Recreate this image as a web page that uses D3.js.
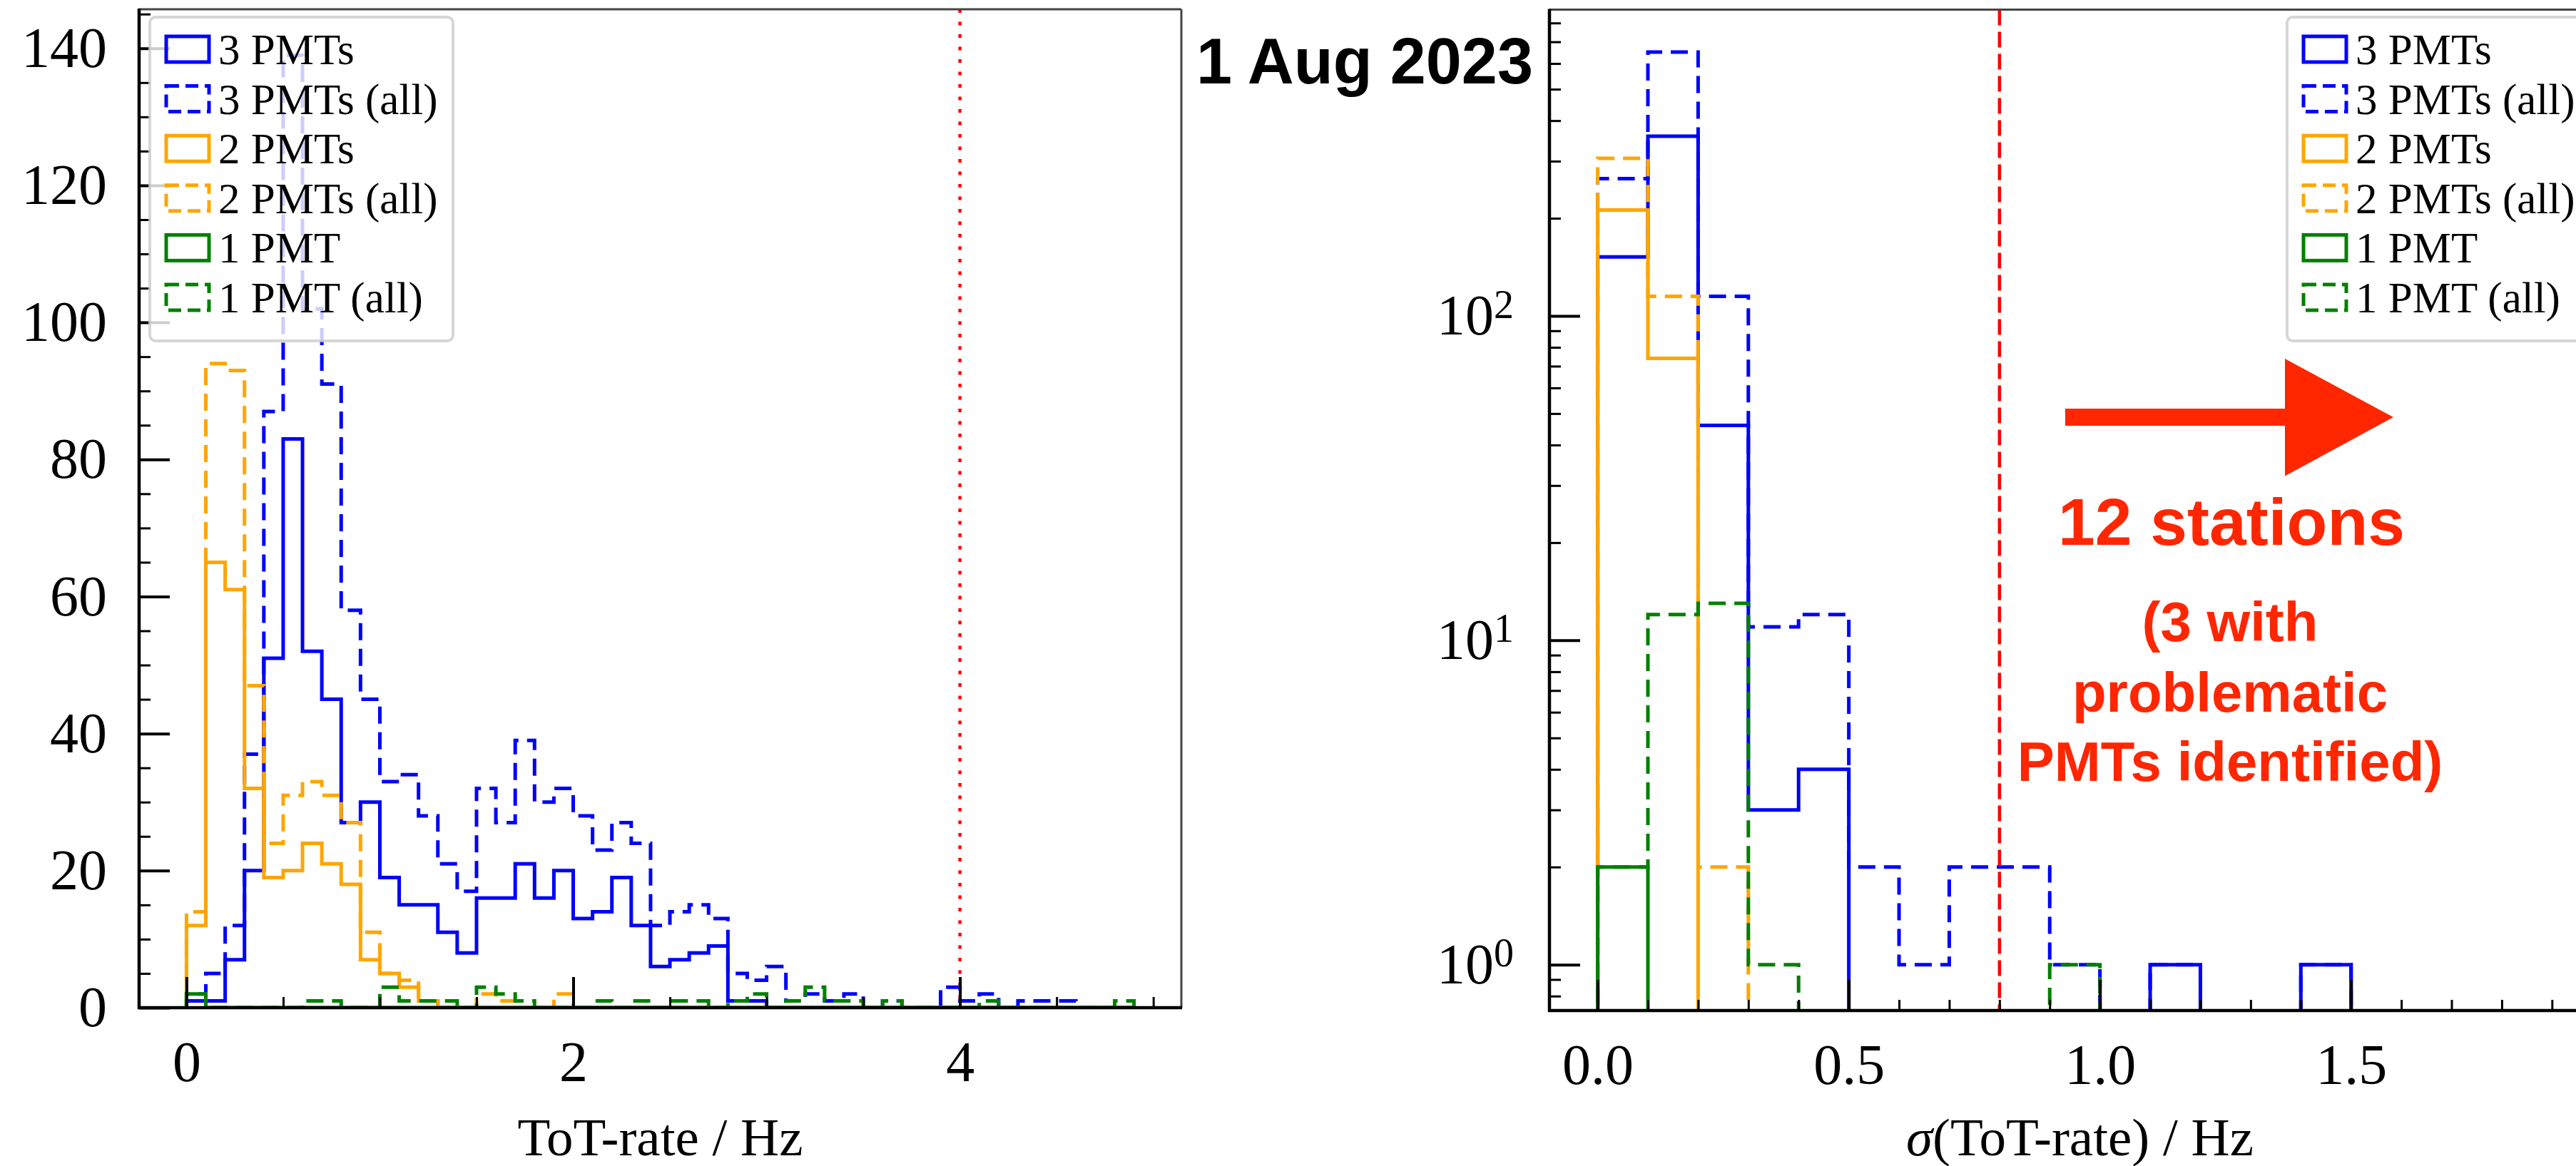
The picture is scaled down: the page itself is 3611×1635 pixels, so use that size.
<!DOCTYPE html>
<html>
<head>
<meta charset="utf-8">
<script src="https://cdn.jsdelivr.net/npm/d3@7"></script>
<style>
  body { margin: 0; background: #fff; }
  svg { display: block; }
</style>
</head>
<body>
<svg id="fig" width="3611" height="1635"></svg>
<script>
// ---------------------------------------------------------------
// Station ToT-rate histograms, 1 Aug 2023
// counts per 0.1 Hz bin, first bin starts at 0 Hz
// ---------------------------------------------------------------
const BIN_WIDTH = 0.1;

const seriesLabels = ["3 PMTs", "3 PMTs (all)", "2 PMTs", "2 PMTs (all)", "1 PMT", "1 PMT (all)"];
const seriesColors = ["#0000ff", "#0000ff", "#ffa500", "#ffa500", "#008000", "#008000"];
const seriesDashed = [false, true, false, true, false, true];

// left panel: ToT-rate / Hz (bins 0.0 ... 4.9)
const rate3PMT    = [1, 1, 7, 20, 51, 83, 52, 45, 27, 30, 19, 15, 15, 11, 8, 16, 16, 21, 16, 20, 13, 14, 19, 12, 6, 7, 8, 9, 1, 1, 0, 0, 0, 0, 0, 0, 0, 0, 0, 0, 0, 0, 0, 0, 0, 0, 0, 0, 0];
const rate3PMTall = [1, 5, 12, 37, 87, 139, 102, 91, 58, 45, 33, 34, 28, 21, 17, 32, 27, 39, 30, 32, 28, 23, 27, 24, 12, 14, 15, 13, 5, 4, 6, 1, 2, 1, 2, 0, 1, 0, 0, 3, 1, 2, 0, 1, 1, 1, 0, 0, 0];
const rate2PMT    = [12, 65, 61, 32, 19, 20, 24, 21, 18, 7, 5, 3, 1, 0, 0, 0, 0, 0, 0, 0, 0, 0, 0, 0, 0, 0, 0, 0, 0, 0, 0, 0, 0, 0, 0, 0, 0, 0, 0, 0, 0, 0, 0, 0, 0, 0, 0, 0, 0];
const rate2PMTall = [14, 94, 93, 47, 24, 31, 33, 31, 27, 11, 5, 4, 1, 0, 0, 2, 1, 0, 0, 2, 0, 0, 0, 0, 0, 0, 0, 0, 0, 0, 0, 0, 0, 0, 0, 0, 0, 0, 0, 0, 0, 0, 0, 0, 0, 0, 0, 0, 0];
const rate1PMT    = [2, 0, 0, 0, 0, 0, 0, 0, 0, 0, 0, 0, 0, 0, 0, 0, 0, 0, 0, 0, 0, 0, 0, 0, 0, 0, 0, 0, 0, 0, 0, 0, 0, 0, 0, 0, 0, 0, 0, 0, 0, 0, 0, 0, 0, 0, 0, 0, 0];
const rate1PMTall = [2, 0, 0, 0, 0, 0, 1, 1, 0, 0, 3, 1, 1, 1, 0, 3, 2, 1, 0, 0, 0, 1, 0, 1, 0, 1, 1, 0, 1, 2, 0, 1, 3, 1, 1, 0, 1, 0, 0, 0, 0, 1, 0, 0, 0, 0, 0, 0, 1];

// right panel: sigma(ToT-rate) / Hz (bins 0.0 ... 1.4)
const sigma3PMT    = [152, 358, 46, 3, 4, 0, 0, 0, 0, 0, 0, 1, 0, 0, 1];
const sigma3PMTall = [265, 651, 115, 11, 12, 2, 1, 2, 2, 1, 0, 1, 0, 0, 1];
const sigma2PMT    = [212, 74, 0, 0, 0, 0, 0, 0, 0, 0, 0, 0, 0, 0, 0];
const sigma2PMTall = [306, 115, 2, 0, 0, 0, 0, 0, 0, 0, 0, 0, 0, 0, 0];
const sigma1PMT    = [2, 0, 0, 0, 0, 0, 0, 0, 0, 0, 0, 0, 0, 0, 0];
const sigma1PMTall = [2, 12, 13, 1, 0, 0, 0, 0, 0, 1, 0, 0, 0, 0, 0];

// cut values
const rateCut = 4.0;
const sigmaCut = 0.8;

// tick values
const rateMajorTicks = [0, 2, 4];
const rateMinorTicks = [0.5, 1, 1.5, 2.5, 3, 3.5, 4.5, 5];
const countMajorTicks = [0, 20, 40, 60, 80, 100, 120, 140];
const countMinorTicks = [5, 10, 15, 25, 30, 35, 45, 50, 55, 65, 70, 75, 85, 90, 95, 105, 110, 115, 125, 130, 135, 145];
const sigmaMajorTicks = [0, 0.5, 1.0, 1.5];
const sigmaMinorTicks = [0.1, 0.2, 0.3, 0.4, 0.6, 0.7, 0.8, 0.9, 1.1, 1.2, 1.3, 1.4, 1.6, 1.7, 1.8, 1.9];
const logMajorTicks = [1, 10, 100];
const logMinorTicks = [0.8, 0.9, 2, 3, 4, 5, 6, 7, 8, 9, 20, 30, 40, 50, 60, 70, 80, 90, 200, 300, 400, 500, 600, 700, 800];

const titleText = "1 Aug 2023";
const noteLines = ["(3 with", "problematic", "PMTs identified)"];
const noteHead = "12 stations";

// ---------------------------------------------------------------
const W = 3611, H = 1635;
const SERIF = "'Liberation Serif', 'DejaVu Serif', serif";
const SANS = "'Liberation Sans', Arial, sans-serif";
const RED_NOTE = "#ff2600";

const svg = d3.select("#fig");
svg.append("rect").attr("width", W).attr("height", H).attr("fill", "#fff");
const defs = svg.append("defs");

const leftData = [rate3PMT, rate3PMTall, rate2PMT, rate2PMTall, rate1PMT, rate1PMTall];
const rightData = [sigma3PMT, sigma3PMTall, sigma2PMT, sigma2PMTall, sigma1PMT, sigma1PMTall];

// step outline of a histogram, as drawn by histtype="step"
function stepPath(counts, x, y, floor) {
  const p = d3.path();
  p.moveTo(x(0), y(floor));
  counts.forEach((c, i) => {
    const v = Math.max(c, floor);
    p.lineTo(x(i * BIN_WIDTH), y(v));
    p.lineTo(x((i + 1) * BIN_WIDTH), y(v));
  });
  p.lineTo(x(counts.length * BIN_WIDTH), y(floor));
  return p.toString();
}

function drawPanel(cfg) {
  const { id, box, x, y, data, floor } = cfg;
  const g = svg.append("g").attr("id", id);

  defs.append("clipPath").attr("id", id + "-clip")
    .append("rect")
    .attr("x", box.left).attr("y", box.top)
    .attr("width", box.right - box.left).attr("height", box.bottom - box.top);

  // histograms
  const hist = g.append("g").attr("clip-path", `url(#${id}-clip)`);
  data.forEach((counts, k) => {
    hist.append("path")
      .attr("d", stepPath(counts, x, y, floor))
      .attr("fill", "none")
      .attr("stroke", seriesColors[k])
      .attr("stroke-width", 5)
      .attr("stroke-linejoin", "miter")
      .attr("stroke-dasharray", seriesDashed[k] ? "24 12" : null);
  });

  // cut line
  hist.append("line")
    .attr("x1", x(cfg.cut)).attr("x2", x(cfg.cut))
    .attr("y1", box.top).attr("y2", box.bottom)
    .attr("stroke", "#ff0000")
    .attr("stroke-width", cfg.cutWidth)
    .attr("stroke-dasharray", cfg.cutDash);

  // axes with inward ticks
  const yMajor = d3.axisLeft(y).tickValues(cfg.yMajor).tickSize(-43).tickPadding(cfg.yPad)
    .tickFormat(cfg.yFormat);
  const yMinor = d3.axisLeft(y).tickValues(cfg.yMinor).tickSize(-16).tickFormat("");
  const xMajor = d3.axisBottom(x).tickValues(cfg.xMajor).tickSize(-43).tickPadding(46)
    .tickFormat(cfg.xFormat);
  const xMinor = d3.axisBottom(x).tickValues(cfg.xMinor).tickSize(-15).tickFormat("");

  const style = (sel, w) => {
    sel.select(".domain").remove();
    sel.selectAll(".tick line").attr("stroke", "#000").attr("stroke-width", w);
    sel.selectAll(".tick text").attr("font-family", SERIF).attr("font-size", 80).attr("fill", "#000");
  };

  const yAx = g.append("g").attr("transform", `translate(${box.left},0)`).call(yMajor).call(s => style(s, 4));
  g.append("g").attr("transform", `translate(${box.left},0)`).call(yMinor).call(s => style(s, 3));
  g.append("g").attr("transform", `translate(0,${box.bottom})`).call(xMajor).call(s => style(s, 4));
  g.append("g").attr("transform", `translate(0,${box.bottom})`).call(xMinor).call(s => style(s, 3));

  if (cfg.logLabels) {
    yAx.selectAll(".tick text").each(function (d) {
      const t = d3.select(this);
      t.text(null);
      t.append("tspan").text("10");
      t.append("tspan").attr("dy", "-0.42em").attr("font-size", 56).text(Math.round(Math.log10(d)));
    });
  }

  // frame
  g.append("line").attr("x1", box.left).attr("x2", box.right).attr("y1", box.top).attr("y2", box.top)
    .attr("stroke", "#444").attr("stroke-width", 3);
  g.append("line").attr("x1", box.right).attr("x2", box.right).attr("y1", box.top).attr("y2", box.bottom)
    .attr("stroke", "#444").attr("stroke-width", 3);
  g.append("line").attr("x1", box.left).attr("x2", box.left).attr("y1", box.top - 1).attr("y2", box.bottom + 2)
    .attr("stroke", "#000").attr("stroke-width", 4.5);
  g.append("line").attr("x1", box.left - 2).attr("x2", box.right + 1).attr("y1", box.bottom).attr("y2", box.bottom)
    .attr("stroke", "#000").attr("stroke-width", 4.5);

  // axis label
  const lab = g.append("text")
    .attr("x", (box.left + box.right) / 2).attr("y", 1620)
    .attr("text-anchor", "middle")
    .attr("font-family", SERIF).attr("font-size", 75).attr("fill", "#000");
  cfg.xLabel(lab);

  // legend
  const lg = g.append("g");
  lg.append("rect")
    .attr("x", cfg.legend.x).attr("y", 24).attr("width", cfg.legend.w).attr("height", 454)
    .attr("rx", 8)
    .attr("fill", "#fff").attr("fill-opacity", 0.8)
    .attr("stroke", "#cccccc").attr("stroke-opacity", 0.8).attr("stroke-width", 4);
  seriesLabels.forEach((name, k) => {
    const cy = 69 + k * 69.6;
    lg.append("rect")
      .attr("x", cfg.legend.x + 23).attr("y", cy - 18).attr("width", 60).attr("height", 36)
      .attr("fill", "none").attr("stroke", seriesColors[k]).attr("stroke-width", 5)
      .attr("stroke-dasharray", seriesDashed[k] ? "18 9" : null);
    lg.append("text")
      .attr("x", cfg.legend.x + 96).attr("y", cy + 21)
      .attr("font-family", SERIF).attr("font-size", 61).attr("fill", "#000")
      .text(name);
  });
}

// left panel: linear counts
const boxL = { left: 195, right: 1656, top: 13, bottom: 1413 };
const xL = d3.scaleLinear().domain([-0.245, 5.145]).range([boxL.left, boxL.right]);
const yL = d3.scaleLinear().domain([0, 145.7]).range([boxL.bottom, boxL.top]);

drawPanel({
  id: "rate", box: boxL, x: xL, y: yL, data: leftData, floor: 0,
  cut: rateCut, cutWidth: 4.5, cutDash: "5 12.5",
  yMajor: countMajorTicks, yMinor: countMinorTicks, yPad: 45, yFormat: d3.format("d"),
  xMajor: rateMajorTicks, xMinor: rateMinorTicks, xFormat: d3.format("d"),
  xLabel: t => t.text("ToT-rate / Hz"),
  legend: { x: 210, w: 425 }
});

// right panel: log counts
const boxR = { left: 2172, right: 3659, top: 13.4, bottom: 1417 };
const xR = d3.scaleLinear().domain([-0.096, 2.016]).range([boxR.left, boxR.right]);
const yR = d3.scaleLog().domain([0.722, 880]).range([boxR.bottom, boxR.top]);

drawPanel({
  id: "sigma", box: boxR, x: xR, y: yR, data: rightData, floor: 0.3,
  cut: sigmaCut, cutWidth: 4.5, cutDash: "22 9",
  yMajor: logMajorTicks, yMinor: logMinorTicks, yPad: 50, yFormat: d => d,
  xMajor: sigmaMajorTicks, xMinor: sigmaMinorTicks, xFormat: d3.format(".1f"),
  logLabels: true,
  xLabel: t => {
    t.append("tspan").attr("font-style", "italic").text("σ");
    t.append("tspan").text("(ToT-rate) / Hz");
  },
  legend: { x: 3206, w: 500 }
});

// date stamp
svg.append("text")
  .attr("x", 1913).attr("y", 117)
  .attr("text-anchor", "middle")
  .attr("font-family", SANS).attr("font-weight", "bold").attr("font-size", 90)
  .attr("fill", "#000")
  .text(titleText);

// arrow pointing past the cut
const arrow = d3.path();
arrow.moveTo(2895, 573);
arrow.lineTo(3203, 573);
arrow.lineTo(3203, 503);
arrow.lineTo(3355, 585);
arrow.lineTo(3203, 667.5);
arrow.lineTo(3203, 597);
arrow.lineTo(2895, 597);
arrow.closePath();
svg.append("path").attr("d", arrow.toString()).attr("fill", RED_NOTE);

svg.append("text")
  .attr("x", 3128).attr("y", 764)
  .attr("text-anchor", "middle")
  .attr("font-family", SANS).attr("font-weight", "bold").attr("font-size", 93)
  .attr("fill", RED_NOTE)
  .text(noteHead);

const noteY = [899, 998, 1095];
noteLines.forEach((line, i) => {
  svg.append("text")
    .attr("x", 3126).attr("y", noteY[i])
    .attr("text-anchor", "middle")
    .attr("font-family", SANS).attr("font-weight", "bold").attr("font-size", 78)
    .attr("fill", RED_NOTE)
    .text(line);
});
</script>
</body>
</html>
